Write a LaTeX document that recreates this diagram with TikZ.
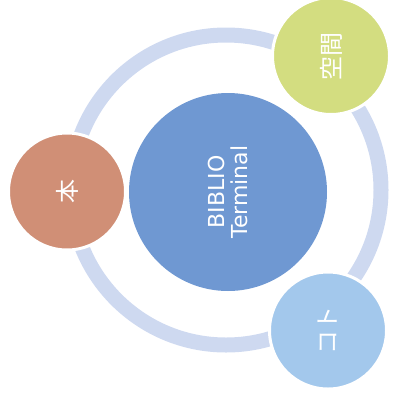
\documentclass[tikz,border=0pt]{standalone}
\usepackage{fontspec}
\setsansfont{DejaVu Sans}
\newfontfamily\cjkfont{Noto Sans CJK JP}
\definecolor{ringc}{RGB}{206,217,240}
\definecolor{hubc}{RGB}{111,152,210}
\definecolor{spacec}{RGB}{211,221,128}
\definecolor{bookc}{RGB}{208,143,118}
\definecolor{thingc}{RGB}{163,200,236}
\tikzset{
  hubnode/.style={circle, fill=hubc, minimum size=198pt, inner sep=0pt, text=white, align=center,
    font=\sffamily\fontsize{22}{23}\selectfont},
  satnode/.style={circle, draw=white, line width=3pt, minimum size=117pt, inner sep=0pt, text=white,
    font=\cjkfont\fontsize{24}{24}\selectfont},
  ringnode/.style={circle, draw=ringc, line width=15pt, minimum size=310pt, inner sep=0pt}
}
\begin{document}
\begin{tikzpicture}[x=1pt,y=-1pt]
\useasboundingbox (0,0) rectangle (409,399);
\node[ringnode] (ring) at (226,190) {};
\node[hubnode, rotate=90] (hub) at (228,192) {BIBLIO\\Terminal};
\node[satnode, fill=spacec, rotate=90] (space) at (331,56) {空間};
\node[satnode, fill=bookc, rotate=90] (book) at (67,191.5) {本};
\node[satnode, fill=thingc, rotate=90] (thing) at (328,330.5) {コト};
\end{tikzpicture}
\end{document}
